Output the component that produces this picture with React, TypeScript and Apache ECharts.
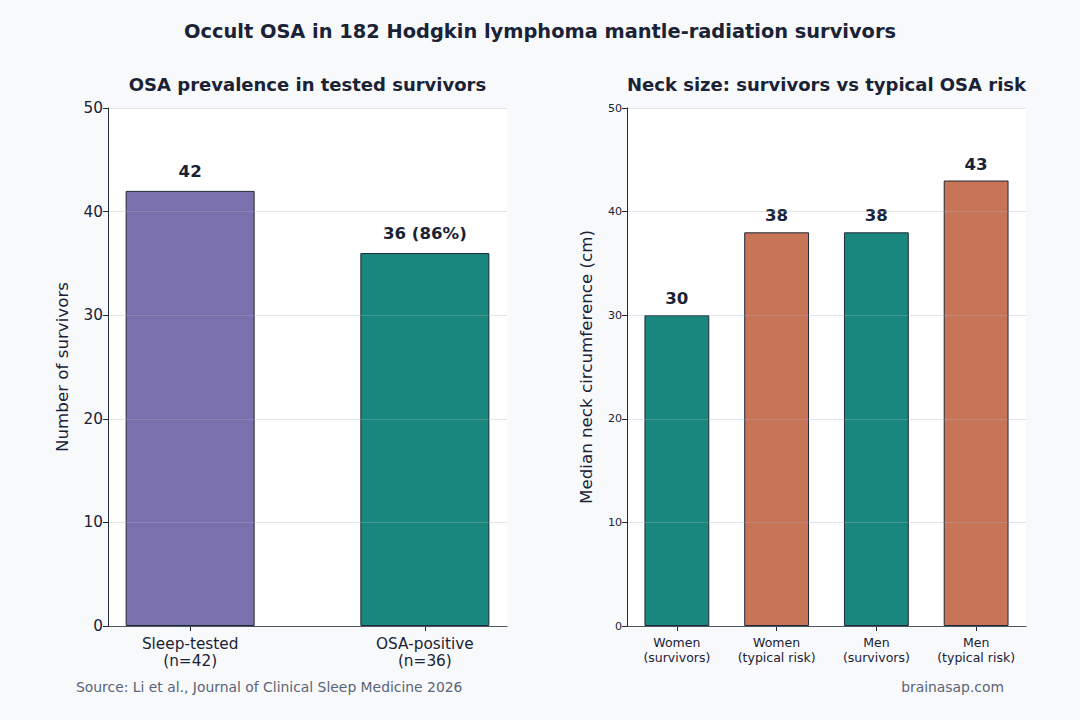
import React, { useEffect, useRef } from "react";
import * as echarts from "echarts";

// Left panel: survivors tested vs OSA-positive
const prevalenceCategories = ["Sleep-tested\n(n=42)", "OSA-positive\n(n=36)"];
const prevalenceValues = [42, 36];

// Right panel: median neck circumference (cm)
const neckCategories = [
  "Women\n(survivors)",
  "Women\n(typical risk)",
  "Men\n(survivors)",
  "Men\n(typical risk)",
];
const neckValues = [30, 38, 38, 43];

const yTicks = [0, 10, 20, 30, 40, 50];

const FONT = "DejaVu Sans";
const INK = "#1a2236";
const EDGE = "#1f2937";
const PURPLE = "#7b70ae";
const TEAL = "#19877d";
const CORAL = "#c87457";
const GRID_LINE = "rgba(170,176,188,0.35)";

export default function App() {
  const ref = useRef<HTMLDivElement>(null);

  useEffect(() => {
    if (!ref.current) return;
    const chart = echarts.init(ref.current, undefined, { renderer: "svg" });

    const yAxisBase = (fontSize: number, name: string, nameGap: number) => ({
      type: "value" as const,
      min: yTicks[0],
      max: yTicks[yTicks.length - 1],
      interval: 10,
      z: 5,
      name,
      nameLocation: "middle" as const,
      nameGap,
      nameTextStyle: { fontFamily: FONT, fontSize: 16.7, color: INK },
      axisLine: { show: true, onZero: false, lineStyle: { color: EDGE, width: 1 } },
      axisTick: { show: true, length: 5, lineStyle: { color: EDGE } },
      axisLabel: { fontFamily: FONT, fontSize, color: INK, margin: 5 },
      splitLine: { show: true, lineStyle: { color: GRID_LINE, width: 1 } },
    });

    const barLabel = (distance: number) => ({
      show: true,
      position: "top" as const,
      distance,
      fontFamily: FONT,
      fontSize: 16.6,
      fontWeight: "bold" as const,
      color: INK,
    });

    const heading = (text: string, x: number, y: number, fontSize: number) => ({
      type: "text",
      x,
      y,
      style: {
        text,
        fontFamily: FONT,
        fontSize,
        fontWeight: "bold",
        fill: INK,
        textAlign: "center",
        textVerticalAlign: "middle",
      },
    });

    chart.setOption({
      animation: false,
      backgroundColor: "#f8f9fb",
      graphic: [
        heading("Occult OSA in 182 Hodgkin lymphoma mantle-radiation survivors", 540, 31, 19.4),
        heading("OSA prevalence in tested survivors", 307.5, 84, 18),
        heading("Neck size: survivors vs typical OSA risk", 826.5, 84, 18),
        {
          type: "text",
          x: 76,
          y: 687,
          style: {
            text: "Source: Li et al., Journal of Clinical Sleep Medicine 2026",
            fontFamily: FONT,
            fontSize: 13.9,
            fill: "#5a6478",
            textAlign: "left",
            textVerticalAlign: "middle",
          },
        },
        {
          type: "text",
          x: 1004,
          y: 687,
          style: {
            text: "brainasap.com",
            fontFamily: FONT,
            fontSize: 13.9,
            fill: "#5a6478",
            textAlign: "right",
            textVerticalAlign: "middle",
          },
        },
      ],
      grid: [
        {
          left: 108,
          width: 399,
          top: 108,
          bottom: 94,
          show: true,
          backgroundColor: "#ffffff",
          borderWidth: 0,
        },
        {
          left: 627,
          width: 399,
          top: 108,
          bottom: 94,
          show: true,
          backgroundColor: "#ffffff",
          borderWidth: 0,
        },
      ],
      xAxis: [
        {
          gridIndex: 0,
          type: "value",
          min: -0.35,
          max: 1.35,
          axisLine: { show: true, onZero: false, lineStyle: { color: EDGE, width: 1 } },
          axisTick: {
            show: true,
            length: 5,
            lineStyle: { color: EDGE },
            customValues: prevalenceCategories.map((_, i) => i),
          },
          axisLabel: {
            fontFamily: FONT,
            fontSize: 15.3,
            color: INK,
            margin: 9,
            lineHeight: 17,
            customValues: prevalenceCategories.map((_, i) => i),
            formatter: (v: number) => prevalenceCategories[Math.round(v)] ?? "",
          },
          splitLine: { show: false },
        },
        {
          gridIndex: 1,
          type: "category",
          data: neckCategories,
          axisLine: { show: true, onZero: false, lineStyle: { color: EDGE, width: 1 } },
          axisTick: { show: true, length: 5, alignWithLabel: true, lineStyle: { color: EDGE } },
          axisLabel: {
            fontFamily: FONT,
            fontSize: 12.5,
            color: INK,
            margin: 9,
            lineHeight: 15,
            interval: 0,
          },
          splitLine: { show: false },
        },
      ],
      yAxis: [
        { gridIndex: 0, ...yAxisBase(15.3, "Number of survivors", 38) },
        { gridIndex: 1, ...yAxisBase(11.1, "Median neck circumference (cm)", 33) },
      ],
      series: [
        {
          type: "bar",
          xAxisIndex: 0,
          yAxisIndex: 0,
          barWidth: 129,
          data: prevalenceValues.map((v, i) => ({
            value: [i, v],
            itemStyle: { color: i === 0 ? PURPLE : TEAL },
          })),
          itemStyle: { borderColor: EDGE, borderWidth: 1 },
          label: {
            ...barLabel(11),
            formatter: (p: any) => {
              const v = p.value[1];
              if (p.dataIndex === 0) return `${v}`;
              const pct = Math.round((v / prevalenceValues[0]) * 100);
              return `${v} (${pct}%)`;
            },
          },
        },
        {
          type: "bar",
          xAxisIndex: 1,
          yAxisIndex: 1,
          barWidth: "65%",
          data: neckValues.map((v, i) => ({
            value: v,
            itemStyle: { color: i % 2 === 0 ? TEAL : CORAL },
          })),
          itemStyle: { borderColor: EDGE, borderWidth: 1 },
          label: { ...barLabel(8), formatter: "{c}" },
        },
      ],
    });

    return () => chart.dispose();
  }, []);

  return (
    <div
      ref={ref}
      style={{ width: 1080, height: 720, position: "absolute", left: 0, top: 0 }}
    />
  );
}
